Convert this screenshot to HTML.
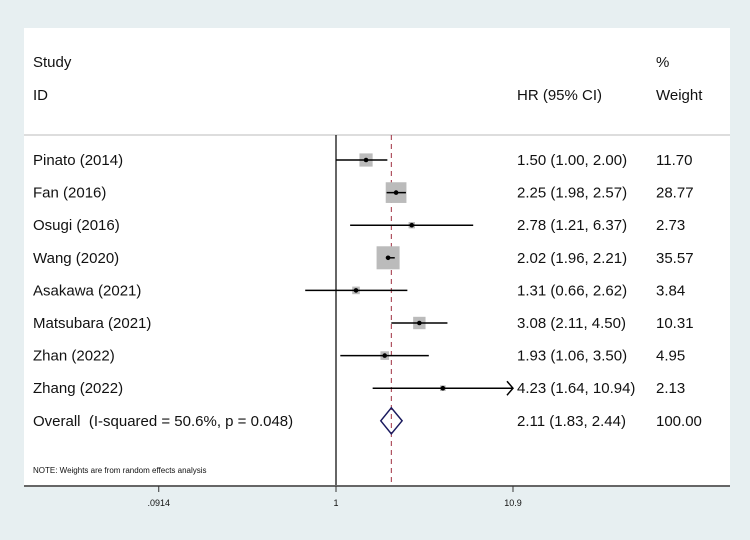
<!DOCTYPE html>
<html><head><meta charset="utf-8"><style>
body{margin:0;background:#e7eff1;}
svg{display:block;font-family:"Liberation Sans",sans-serif;}
</style></head><body>
<svg width="750" height="540">
<rect x="24" y="28" width="706" height="458" fill="#fff"/>
<line x1="24" y1="135" x2="730" y2="135" stroke="#ddd" stroke-width="2"/>
<text x="33" y="67" font-size="15" fill="#111">Study</text>
<text x="33" y="100" font-size="15" fill="#111">ID</text>
<text x="517" y="100" font-size="15" fill="#111">HR (95% CI)</text>
<text x="656" y="67" font-size="15" fill="#111">%</text>
<text x="656" y="100" font-size="15" fill="#111">Weight</text>
<g id="marks"></g>
<text x="33" y="473" font-size="8" fill="#111">NOTE: Weights are from random effects analysis</text>
<line x1="24" y1="486" x2="730" y2="486" stroke="#666" stroke-width="2"/>
<g id="ticks"></g>
</svg>
<script>
const studies=["Pinato (2014)","Fan (2016)","Osugi (2016)","Wang (2020)","Asakawa (2021)","Matsubara (2021)","Zhan (2022)","Zhang (2022)"];
const hr=[1.50,2.25,2.78,2.02,1.31,3.08,1.93,4.23];
const lo=[1.00,1.98,1.21,1.96,0.66,2.11,1.06,1.64];
const hi=[2.00,2.57,6.37,2.21,2.62,4.50,3.50,10.94];
const weights=[11.70,28.77,2.73,35.57,3.84,10.31,4.95,2.13];
const overall=[2.11,1.83,2.44];
const overallLabel="Overall  (I-squared = 50.6%, p = 0.048)";
const tickVals=[0.0914,1,10.9];
const tickLabels=[".0914","1","10.9"];
const NS="http://www.w3.org/2000/svg";
const xMin=0.0914,xMax=10.9;
function x(v){return 336+170.6*Math.log10(v);}
function rowY(i){return 160+i*32.6;}
const g=document.getElementById('marks');
function mk(t,a,p){const e=document.createElementNS(NS,t);for(const k in a)e.setAttribute(k,a[k]);(p||g).appendChild(e);return e;}
let e=mk('line',{x1:x(1),y1:135,x2:x(1),y2:486,stroke:'#000','stroke-width':1.2});


e=mk('line',{x1:x(overall[0]),y1:135,x2:x(overall[0]),y2:486,stroke:'#a03040','stroke-width':1,'stroke-dasharray':'5,4'});


studies.forEach((s,i)=>{
  const y=rowY(i);const side=3.86*Math.sqrt(weights[i]);
  e=mk('rect',{x:x(hr[i])-side/2,y:y-side/2,width:side,height:side,fill:'#bbb'});
  
  
  const x2=Math.min(x(hi[i]),x(xMax));
  e=mk('line',{x1:Math.max(x(lo[i]),x(xMin)),y1:y,x2:x2,y2:y,stroke:'#000','stroke-width':1.5});
  
  
  if(hi[i]>xMax){e=mk('path',{d:`M${x2-6},${y-7}L${x2},${y}L${x2-6},${y+7}`,fill:'none',stroke:'#000','stroke-width':1.5});
    
    }
  e=mk('circle',{cx:x(hr[i]),cy:y,r:2.3,fill:'#000'});
  
  
  e=mk('text',{x:33,y:y+5,'font-size':15,fill:'#111'});e.textContent=s;
  
  
  e=mk('text',{x:517,y:y+5,'font-size':15,fill:'#111'});
  e.textContent=`${hr[i].toFixed(2)} (${lo[i].toFixed(2)}, ${hi[i].toFixed(2)})`;
  
  
  e=mk('text',{x:656,y:y+5,'font-size':15,fill:'#111'});e.textContent=weights[i].toFixed(2);
  
  
});
const oy=rowY(8);
e=mk('path',{d:`M${x(overall[1])},${oy}L${x(overall[0])},${oy-13}L${x(overall[2])},${oy}L${x(overall[0])},${oy+13}Z`,fill:'none',stroke:'#1a1a5e','stroke-width':1.5});


e=mk('text',{x:33,y:oy+5,'font-size':15,fill:'#111',style:'white-space:pre'});e.textContent=overallLabel;


e=mk('text',{x:517,y:oy+5,'font-size':15,fill:'#111'});
e.textContent=`${overall[0].toFixed(2)} (${overall[1].toFixed(2)}, ${overall[2].toFixed(2)})`;


e=mk('text',{x:656,y:oy+5,'font-size':15,fill:'#111'});e.textContent="100.00";


const tg=document.getElementById('ticks');
tickVals.forEach((v,i)=>{
  let t=mk('line',{x1:x(v),y1:486,x2:x(v),y2:492,stroke:'#333','stroke-width':1},tg);
  
  
  t=mk('text',{x:x(v),y:506,'font-size':9,'text-anchor':'middle',fill:'#111'},tg);t.textContent=tickLabels[i];
  
  
});
</script>
</body></html>
